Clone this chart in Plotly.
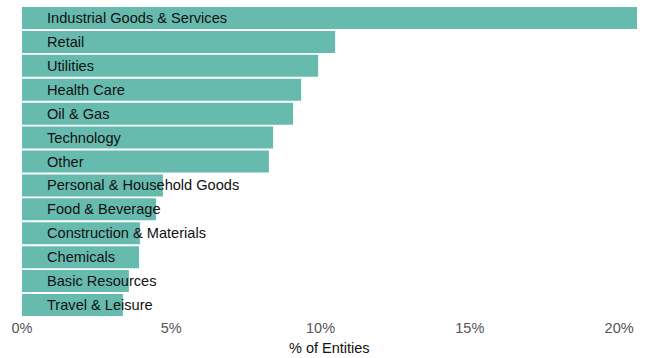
import plotly.graph_objects as go

# Share of entities by sector (%), top to bottom
sectors = [
    "Industrial Goods & Services", "Retail", "Utilities", "Health Care",
    "Oil & Gas", "Technology", "Other", "Personal & Household Goods",
    "Food & Beverage", "Construction & Materials", "Chemicals",
    "Basic Resources", "Travel & Leisure",
]
shares = [20.6, 10.49, 9.92, 9.35, 9.08, 8.41, 8.27, 4.72, 4.49, 3.95, 3.92, 3.58, 3.38]
x_ticks = [0, 5, 10, 15, 20]
x_tick_labels = ["0%", "5%", "10%", "15%", "20%"]

bar_color = "#66bbae"
font_family = "Liberation Sans, Arial, sans-serif"

fig = go.Figure(
    go.Bar(
        x=shares,
        y=sectors,
        orientation="h",
        marker=dict(color=bar_color, line=dict(width=0)),
        hoverinfo="x+y",
    )
)

# Sector names drawn over the bars, a little in from the axis
for name in sectors:
    fig.add_annotation(
        x=0, y=name, xref="x", yref="y",
        text=name, showarrow=False,
        xanchor="left", xshift=23,
        font=dict(family=font_family, size=14.6, color="#111111"),
    )

# x-axis title placed under the tick labels
fig.add_annotation(
    x=0.5, y=0, xref="paper", yref="paper",
    text="% of Entities", showarrow=False,
    xanchor="center", yanchor="middle", yshift=-31,
    font=dict(family=font_family, size=14.5, color="#111111"),
)

fig.update_layout(
    width=647, height=358,
    margin=dict(l=22, r=10, t=6, b=41),
    paper_bgcolor="white", plot_bgcolor="white",
    bargap=0.08,
    showlegend=False,
    font=dict(family=font_family, size=14, color="#444444"),
    xaxis=dict(
        range=[0, max(shares)],
        tickvals=x_ticks, ticktext=x_tick_labels,
        showgrid=False, zeroline=False, showline=False,
        ticks="", tickfont=dict(size=14.5, color="#555555"),
        automargin=False,
    ),
    yaxis=dict(
        categoryorder="array", categoryarray=sectors[::-1],
        showticklabels=False, showgrid=False, zeroline=False, showline=False, ticks="",
        automargin=False,
    ),
)

fig.write_html("out.html")
